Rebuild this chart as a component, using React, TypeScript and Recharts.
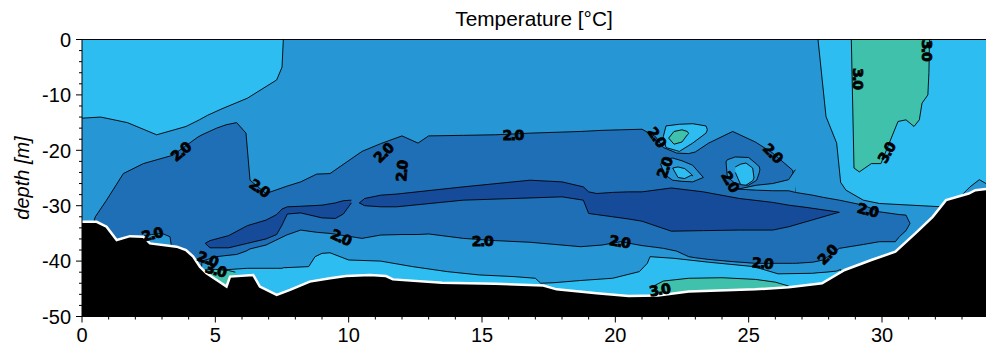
import React from "react";
import {
  ComposedChart,
  Area,
  Scatter,
  XAxis,
  YAxis,
  ReferenceLine,
} from "recharts";

// each band: [distance, lower depth, upper depth]
type Band = [number, number, number][];

const xTicks = [0, 1, 2, 3, 4, 5, 6, 7, 8, 9, 10, 11, 12, 13, 14, 15, 16, 17, 18, 19, 20, 21, 22, 23, 24, 25, 26, 27, 28, 29, 30, 31, 32, 33];
const yTicks = [0, -2, -4, -6, -8, -10, -12, -14, -16, -18, -20, -22, -24, -26, -28, -30, -32, -34, -36, -38, -40, -42, -44, -46, -48, -50];

const C_LIGHT = "#2ebdf0";
const C_MID = "#2796d4";
const C_DARK = "#1e6fb6";
const C_DEEP = "#164b99";
const C_GREEN = "#3fc1ab";

// medium blue water mass
const midBand: Band = [
  [0, -50, -14.2], [0.7, -50, -14.0], [1.7, -50, -15.0], [2.8, -50, -17.2], [3.9, -50, -15.7],
  [4.4, -50, -14.5], [4.7, -41.6, -13.7], [5.25, -41.6, -12.5], [6.2, -41.3, -10.6], [7.3, -41.3, -7.3],
  [7.5, -41.3, -5], [7.55, -41.2, 0], [8.5, -41, 0], [8.74, -39.2, 0], [9.0, -38.6, 0], [9.3, -38.5, 0],
  [10.0, -39.8, 0], [11.2, -40, 0], [12.4, -41, 0], [13.7, -41.9, 0], [14.9, -42.5, 0], [16.2, -42.8, 0],
  [17.0, -43.1, 0], [17.2, -44, 0], [17.7, -43.9, 0], [18.7, -43.5, 0], [19.9, -43.1, 0], [20.9, -41.9, 0],
  [21.2, -40.4, 0], [21.3, -39.2, 0], [22.2, -39.5, 0], [23.5, -40.2, 0], [25.2, -41, 0], [26.1, -42.3, 0],
  [27.4, -42.2, 0], [27.6, -42.1, 0], [27.9, -42, -13.9], [28.3, -41.8, -18.7], [28.45, -41.5, -25.8],
  [28.65, -50, -27.2], [29.3, -50, -29.0], [29.9, -50, -29.6], [32.25, -50, -30.2],
];
const midEast: Band = [[32.7, -30, -29.5], [33.3, -30, -26.6], [33.65, -30, -25.3], [33.9, -30, -26]];
const midPocket: Band = [[2.3, -38, -35.5], [2.6, -38, -35.2], [3.0, -38, -35.0], [3.3, -38, -35.6], [3.35, -38, -37.2]];
const midWedge: Band = [[24.6, -27.0, -27.0], [25.3, -27.2, -26.3], [25.9, -27.3, -26.0], [26.5, -27.3, -25.3], [26.75, -27.6, -23.5]];

// darker blue layer
const darkBand: Band = [
  [0.4, -50, -33.5], [0.5, -50, -32], [0.92, -50, -29], [1.55, -50, -24.2], [2.3, -50, -22.4],
  [3.4, -50, -20.9], [4.35, -50, -17.6], [4.5, -40, -17.2], [5.05, -39.2, -16.0], [5.4, -39.0, -15.4],
  [5.8, -38.8, -15.0], [6.15, -38.2, -16.9], [6.3, -37.8, -25.4], [6.9, -37.1, -27.8], [7.67, -35.3, -26.5],
  [8.2, -34.4, -25.7], [8.8, -34.8, -24.3], [9.3, -35.0, -24.2], [10.5, -35.9, -20.2], [11.2, -35.3, -18.8],
  [12.0, -35.2, -17.4], [12.6, -35.2, -18.7], [13.0, -35.1, -17.4], [14.3, -35.9, -17.3], [15.5, -36.3, -17.2],
  [16.8, -36.6, -16.9], [18.7, -37.4, -16.6], [19.5, -37.1, -16.4], [20.2, -36.5, -16.3], [21.0, -37.2, -16.2],
  [21.5, -37.5, -17.5], [21.8, -37.7, -19.5], [22.3, -38.2, -20.5], [22.75, -39.2, -20.6], [23.0, -39.4, -20.3],
  [23.5, -39.7, -18.7], [24.4, -40.1, -16.6], [25.25, -40.4, -18.5], [25.9, -40.4, -20.5], [26.65, -40.4, -23.6],
  [26.75, -40.4, -27.6], [27.4, -40.2, -28.1], [27.8, -39.8, -28.5], [28.4, -37.7, -29], [29.3, -37.0, -29.9],
  [29.9, -36.5, -31.1], [30.5, -36.5, -31.5], [30.65, -35.6, -31.6], [30.9, -34.5, -31.7], [31.05, -33.2, -33.2],
];

// deepest blue cores
const deepWest: Band = [
  [4.62, -36.8, -36.8], [4.8, -37.6, -36.3], [5.5, -37.6, -35.4], [6.2, -36.8, -33.6], [6.9, -36.0, -32.6],
  [7.3, -35.2, -31.6], [7.5, -33.5, -30.6], [7.7, -31.5, -30.2], [8.2, -31.3, -30.1], [9.0, -32.2, -29.9],
  [9.5, -32.3, -29.5], [9.8, -31.5, -29.1], [10.1, -29.5, -29.0],
];
const deepCore: Band = [
  [10.4, -29.5, -29.5], [10.6, -30, -28.7], [11.2, -30.2, -28.1], [11.8, -30.2, -27.9], [14.3, -29, -26.6],
  [16.8, -28.6, -25.4], [18.0, -28.4, -25.7], [18.8, -29, -26.6], [19.0, -31.4, -27.5], [19.3, -31.6, -27.8],
  [19.9, -32, -27.6], [20.5, -32.4, -27.5], [21.0, -32.8, -27.5], [22.1, -34.6, -26.8], [23.3, -34.5, -27.5],
  [24.65, -34.4, -28.7], [25.9, -34.4, -29.4], [26.5, -33.8, -29.9], [27.15, -32.9, -30.3], [28.3, -31.3, -31.1],
  [28.4, -31.2, -31.2],
];

// small warm cells inside the dark layer
const cellA: Band = [[21.8, -17.5, -17.5], [21.9, -19.5, -15.6], [22.4, -20.2, -15.3], [22.9, -18.7, -15.2], [23.4, -16.9, -15.6], [23.45, -16.3, -16.3]];
const cellACore: Band = [[22.0, -17.8, -17.8], [22.2, -18.9, -16.6], [22.5, -18.5, -16.3], [22.7, -17.2, -16.6], [22.75, -17, -17]];
const cellB: Band = [[21.7, -22.5, -22.5], [21.85, -24.4, -21.6], [22.15, -25.4, -21.4], [22.5, -25.6, -21.9], [22.9, -25.7, -22.7], [23.3, -24.9, -24.9]];
const cellBCore: Band = [[22.15, -23.2, -23.2], [22.35, -24.9, -23.0], [22.6, -25.1, -23.3], [22.85, -24.5, -24.3], [22.9, -24.6, -24.6]];
const cellC: Band = [[24.15, -22.1, -22.1], [24.2, -24.8, -21.7], [24.5, -26, -21.2], [25.0, -26.3, -21.3], [25.3, -25.4, -22.5], [25.4, -24, -23], [25.42, -23.5, -23.5]];
const cellCCore: Band = [[24.5, -24, -23], [24.7, -26.2, -22.5], [24.9, -26.3, -22.3], [25.15, -25.5, -23.2], [25.2, -25, -25]];

// warmest patches
const greenNorth: Band = [
  [28.85, 0, 0], [28.95, -23.2, 0], [29.15, -23.9, 0], [29.6, -22.4, 0], [29.96, -22.4, 0], [30.6, -14.8, 0],
  [30.9, -14.5, 0], [31.2, -15.7, 0], [31.4, -14.5, 0], [31.5, -11.5, 0], [31.72, -10, 0], [31.76, -6, 0], [31.78, 0, 0],
];
const greenWest: Band = [[4.6, -43, -41.6], [5.0, -44.5, -41.5], [5.5, -44.5, -41.7], [5.75, -43, -42]];
const greenSouth: Band = [[21.4, -46, -44.6], [21.8, -46, -43.6], [22.75, -46, -43.1], [24, -46, -43.0], [25.25, -46, -43.3], [26.0, -46, -43.8], [26.5, -46, -44.5]];

// bottom profile
const seabed: [number, number][] = [
  [0, -32.9], [0.55, -32.9], [0.92, -33.8], [1.3, -36.2], [1.8, -35.5], [2.3, -35.6], [2.55, -36.8], [3.55, -37.4],
  [3.9, -38], [4.17, -39.2], [4.42, -41], [4.67, -42.2], [5.05, -43.4], [5.42, -44.6], [5.55, -42.8], [6.42, -42.5],
  [6.67, -44.6], [7.3, -46.1], [7.8, -45.2], [8.54, -43.7], [9.3, -43.1], [9.9, -42.7], [10.8, -42.5], [11.4, -42.7],
  [11.66, -43.3], [13.5, -43.9], [15.5, -44.1], [17.3, -44.4], [17.8, -45.1], [19.3, -45.8], [20.5, -46.3], [21.6, -46.2],
  [22.75, -45.5], [25.25, -45.1], [26.5, -44.7], [27.75, -44.0], [28.6, -41.6], [29.6, -39.8], [30.5, -38.3], [31.25, -35],
  [31.9, -32], [32.4, -29], [33.25, -27.8], [33.5, -27.2], [33.9, -27.0],
];

// contour labels: x, depth, text, rotation
const contourLabels = [
  { x: 3.7, y: -20.3, t: "2.0", a: -40 },
  { x: 6.65, y: -26.8, t: "2.0", a: 35 },
  { x: 11.3, y: -20.5, t: "2.0", a: -45 },
  { x: 12.0, y: -23.8, t: "2.0", a: -85 },
  { x: 16.15, y: -17.3, t: "2.0", a: 0 },
  { x: 21.55, y: -17.6, t: "2.0", a: 55 },
  { x: 21.85, y: -23.2, t: "2.0", a: -70 },
  { x: 24.3, y: -25.6, t: "2.0", a: 60 },
  { x: 25.9, y: -20.5, t: "2.0", a: 45 },
  { x: 29.45, y: -30.8, t: "2.0", a: 15 },
  { x: 27.95, y: -38.9, t: "2.0", a: -45 },
  { x: 25.5, y: -40.4, t: "2.0", a: 5 },
  { x: 20.15, y: -36.5, t: "2.0", a: 10 },
  { x: 15.0, y: -36.4, t: "2.0", a: 0 },
  { x: 9.7, y: -35.7, t: "2.0", a: 25 },
  { x: 2.62, y: -35.2, t: "2.0", a: -15 },
  { x: 4.7, y: -39.6, t: "2.0", a: 20 },
  { x: 5.0, y: -41.6, t: "3.0", a: 15 },
  { x: 21.65, y: -45.2, t: "3.0", a: -10 },
  { x: 29.1, y: -7.0, t: "3.0", a: 90 },
  { x: 31.7, y: -1.9, t: "3.0", a: 90 },
  { x: 30.17, y: -20.5, t: "3.0", a: -60 },
];

const FONT = "'Liberation Sans', Arial, Helvetica, sans-serif";

const toRows = (band: Band) => band.map(([x, lo, hi]) => ({ x, r: [lo, hi] }));

const XTick = (props: any) => {
  const { x, y, payload } = props;
  const major = payload.value % 5 === 0;
  return (
    <g>
      <line x1={x} x2={x} y1={y} y2={y + (major ? 6 : 3)} stroke="#000" strokeWidth={1} />
      {major && (
        <text x={x} y={y + 25} textAnchor="middle" fontFamily={FONT} fontSize={20} fill="#000">
          {payload.value}
        </text>
      )}
    </g>
  );
};

const YTick = (props: any) => {
  const { x, y, payload } = props;
  const major = payload.value % 10 === 0;
  return (
    <g>
      <line x1={x - (major ? 6 : 3)} x2={x} y1={y} y2={y} stroke="#000" strokeWidth={1} />
      {major && (
        <text x={x - 11} y={y} dy="0.36em" textAnchor="end" fontFamily={FONT} fontSize={20} fill="#000">
          {payload.value}
        </text>
      )}
    </g>
  );
};

const LabelMark = (props: any) => {
  const { cx, cy, payload } = props;
  return (
    <text
      x={cx}
      y={cy}
      dy="0.35em"
      transform={`rotate(${payload.a} ${cx} ${cy})`}
      textAnchor="middle"
      fontFamily="'DejaVu Sans', sans-serif"
      fontWeight={700}
      fontSize={14}
      letterSpacing={-1.5}
      stroke="#000"
      strokeWidth={0.8}
      fill="#000"
    >
      {payload.t}
    </text>
  );
};

const layers: [Band, string][] = [
  [midBand, C_MID],
  [midEast, C_MID],
  [darkBand, C_DARK],
  [midPocket, C_MID],
  [midWedge, C_MID],
  [cellA, C_LIGHT],
  [cellACore, C_GREEN],
  [cellB, C_MID],
  [cellBCore, C_LIGHT],
  [cellC, C_MID],
  [cellCCore, C_LIGHT],
  [deepWest, C_DEEP],
  [deepCore, C_DEEP],
  [greenNorth, C_GREEN],
  [greenWest, C_GREEN],
  [greenSouth, C_GREEN],
];

export default function App() {
  const bedRows = seabed.map(([x, y]) => ({ x, y }));
  const water = toRows([[0, -50, 0], [33.9, -50, 0]]);

  return (
    <div style={{ position: "absolute", left: 0, top: 0, width: 986, height: 344, background: "#fff" }}>
      <div
        style={{
          position: "absolute",
          left: 334,
          top: 9,
          width: 400,
          textAlign: "center",
          fontFamily: FONT,
          fontSize: 20.8,
          lineHeight: "20px",
          color: "#000",
        }}
      >
        Temperature [°C]
      </div>
      <div
        style={{
          position: "absolute",
          left: -78,
          top: 166,
          width: 200,
          height: 24,
          lineHeight: "24px",
          textAlign: "center",
          fontFamily: FONT,
          fontStyle: "italic",
          fontSize: 20,
          color: "#000",
          transform: "rotate(-90deg)",
        }}
      >
        depth [m]
      </div>
      <ComposedChart width={986} height={344} margin={{ top: 39.5, right: 0, bottom: 0, left: 0 }}>
        <XAxis
          type="number"
          dataKey="x"
          domain={[0, 33.9]}
          allowDataOverflow
          ticks={xTicks}
          interval={0}
          tick={<XTick />}
          tickLine={false}
          tickSize={0}
          tickMargin={0}
          height={27.5}
          axisLine={{ stroke: "#000", strokeWidth: 1 }}
        />
        <YAxis
          type="number"
          domain={[-50, 0]}
          allowDataOverflow
          ticks={yTicks}
          interval={0}
          tick={<YTick />}
          tickLine={false}
          tickSize={0}
          tickMargin={0}
          width={82}
          axisLine={{ stroke: "#000", strokeWidth: 1 }}
        />
        <Area
          data={water}
          dataKey="r"
          type="linear"
          fill={C_LIGHT}
          fillOpacity={1}
          stroke="none"
          dot={false}
          activeDot={false}
          isAnimationActive={false}
        />
        {layers.map(([band, color], i) => (
          <Area
            key={i}
            data={toRows(band)}
            dataKey="r"
            type="linear"
            fill={color}
            fillOpacity={1}
            stroke="#000"
            strokeWidth={0.9}
            dot={false}
            activeDot={false}
            isAnimationActive={false}
          />
        ))}
        <Area
          data={bedRows}
          dataKey="y"
          type="linear"
          baseValue={-50}
          fill="#000"
          fillOpacity={1}
          stroke="#fff"
          strokeWidth={2.5}
          dot={false}
          activeDot={false}
          isAnimationActive={false}
        />
        <Scatter data={contourLabels} dataKey="y" shape={LabelMark} isAnimationActive={false} />
        <ReferenceLine y={0} stroke="#000" strokeWidth={1} />
      </ComposedChart>
    </div>
  );
}
